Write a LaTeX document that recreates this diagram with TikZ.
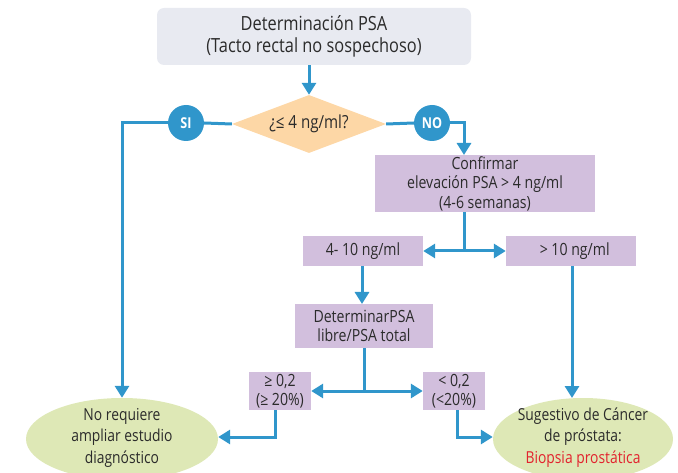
\documentclass[tikz,border=0pt]{standalone}
\usepackage{fontspec}
\setmainfont[FakeStretch=0.84]{Open Sans}
\usetikzlibrary{shapes.geometric,arrows.meta}
\definecolor{bl}{HTML}{3096CB}
\definecolor{topf}{HTML}{E8EAF1}
\definecolor{pk}{HTML}{FDD7A6}
\definecolor{pu}{HTML}{D2BFDD}
\definecolor{gr}{HTML}{DEE8B6}
\definecolor{rd}{HTML}{E2232E}
\definecolor{tx}{HTML}{2B2B2B}
\tikzset{
  box/.style={rectangle, fill=pu, inner sep=0pt, align=center, text=tx, font=\fontsize{16.8}{19.5}\selectfont},
  oval/.style={ellipse, fill=gr, inner sep=0pt},
  ovaltext/.style={align=center, text=tx, inner sep=0pt, font=\fontsize{16.5}{21.5}\selectfont},
  badge/.style={circle, fill=bl, minimum size=36pt, inner sep=0pt, text=white, font=\bfseries\fontsize{15}{16}\selectfont},
  con/.style={draw=bl, line width=3pt},
  arr/.style={con, -{Triangle[length=12pt,width=14pt]}}
}
\begin{document}
\begin{tikzpicture}[x=1pt,y=-1pt]
\useasboundingbox (0,0) rectangle (678,473);
\node[rectangle, rounded corners=7pt, fill=topf, minimum width=314pt, minimum height=57pt, align=center, text=tx, font=\fontsize{19.5}{21.5}\selectfont] (top) at (314,36.5) {Determinación PSA\\(Tacto rectal no sospechoso)};
\node[diamond, aspect=2.65, fill=pk, minimum width=154pt, minimum height=58pt, inner sep=0pt, text=tx, font=\fontsize{18}{20}\selectfont] (dia) at (309,124) {¿≤ 4 ng/ml?};
\node[badge] (si) at (186,123) {SI};
\node[badge] (no) at (432,123) {NO};
\node[box, minimum width=220pt, minimum height=57pt] (conf) at (485,183.5) {Confirmar\\elevación PSA > 4 ng/ml\\(4-6 semanas)};
\node[box, minimum width=120pt, minimum height=30pt] (r410) at (363,251) {4- 10 ng/ml};
\node[box, minimum width=130pt, minimum height=30pt] (r10) at (571,251) {\ \ > 10 ng/ml};
\node[box, minimum width=138pt, minimum height=44pt] (det) at (364,326) {DeterminarPSA\\libre/PSA total};
\node[box, minimum width=62pt, minimum height=38pt] (ge) at (280,391) {≥ 0,2\\(≥ 20\%)};
\node[box, minimum width=62pt, minimum height=38pt] (lt) at (454,391) {< 0,2\\(<20\%)};
\node[oval, minimum width=192pt, minimum height=82pt] (e1) at (122,439) {};
\node[ovaltext] (e1t) at (122,437.5) {No requiere\\ampliar estudio\\diagnóstico};
\node[oval, minimum width=180pt, minimum height=82pt] (e2) at (583,439) {};
\node[ovaltext] (e2t) at (583,437.5) {Sugestivo de Cáncer\\de próstata:\\\textcolor{rd}{Biopsia prostática}};
% connectors
\draw[arr] (dia.north |- top.south) -- (dia.north);
\draw[con] (dia.west) -- (si.east);
\draw[arr] (si.west) -| (e1.north);
\draw[con] (dia.east) -- (no.west);
\coordinate (cin) at (464,155);
\draw[arr] (no.east) -| (cin);
\coordinate (j1) at (464,251);
\draw[con] (conf.south -| j1) -- (j1);
\draw[arr] (j1) -- (r410.east);
\draw[arr] (j1) -- (r10.west);
\coordinate (c2) at (362,304);
\draw[arr] (r410.south -| c2) -- (c2);
\coordinate (j2) at (364,391);
\draw[con] (det.south -| j2) -- (j2);
\draw[arr] (j2) -- (ge.east);
\draw[arr] (j2) -- (lt.west);
\coordinate (c3) at (275,437);
\draw[arr] (ge.south -| c3) -- (c3) -- (e1.east |- c3);
\coordinate (c4) at (457,437);
\draw[arr] (lt.south -| c4) -- (c4) -- (e2.west |- c4);
\coordinate (c5) at (572,398);
\draw[arr] (r10.south -| c5) -- (c5);
\end{tikzpicture}
\end{document}
